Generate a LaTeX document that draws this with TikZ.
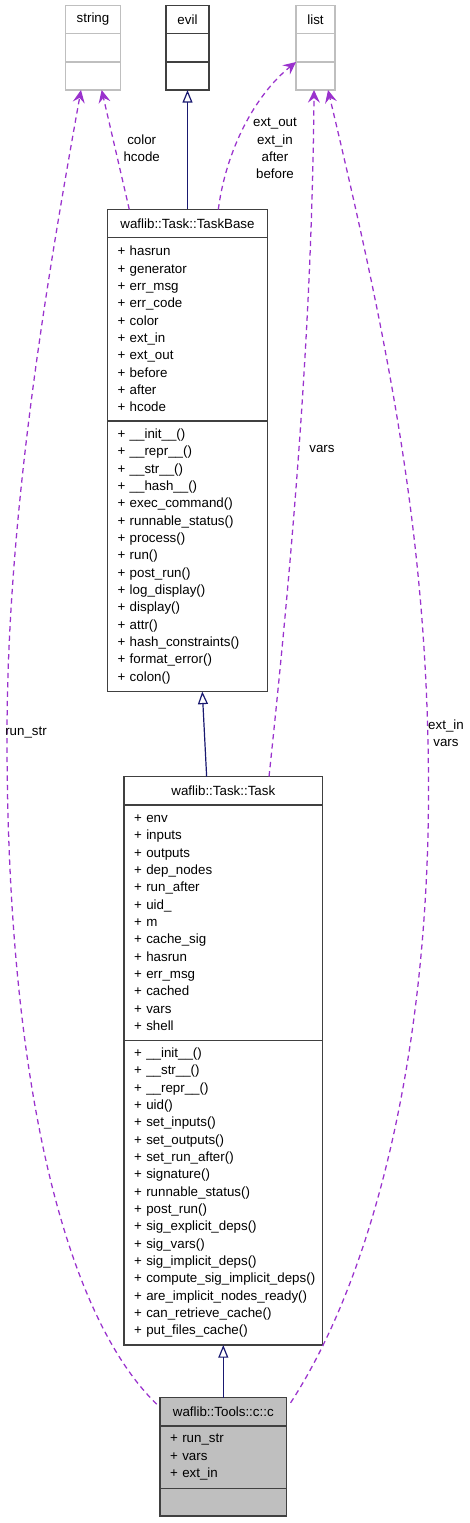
\documentclass[tikz,border=0pt]{standalone}
\usepackage{fontspec}
\setmainfont{Liberation Sans}
\usetikzlibrary{positioning,arrows.meta}
\definecolor{edgeblue}{HTML}{191970}
\definecolor{edgepurple}{HTML}{9A32CD}
\definecolor{boxgray}{HTML}{BFBFBF}
\definecolor{boxdark}{HTML}{404040}
\hyphenpenalty=10000
\exhyphenpenalty=10000
\begin{document}
\begin{tikzpicture}[x=0.75pt, y=-0.75pt,
  every node/.style={font=\fontsize{10}{13}\selectfont},
  cls/.style={rectangle, draw=boxdark, line width=0.9pt, fill=white, inner xsep=7.5pt, inner ysep=0pt, outer sep=0pt},
  ext/.style={cls, draw=boxgray},
  members/.style={align=left, text width=#1},
  lbl/.style={align=center, inner sep=0pt},
  inh/.style={draw=edgeblue, line width=0.9pt, -{Triangle[open, length=9.5pt, width=7.5pt]}},
  dep/.style={draw=edgepurple, line width=0.95pt, dash pattern=on 4pt off 3pt, -{Stealth[length=9.5pt, width=9pt, inset=3.5pt]}}]
  \useasboundingbox (0,0) rectangle (469,1523);
  % Nodes
  \node (STR) [ext, minimum width=41.25pt, minimum height=21pt, anchor=north] at (93,5.5) {string};
  \node (STR-ATTR) [ext, minimum width=41.25pt, minimum height=21.4pt, below=0pt of STR] {};
  \node (STR-METH) [ext, minimum width=41.25pt, minimum height=21pt, below=0pt of STR-ATTR] {};
  \node (EVIL) [cls, minimum width=32.25pt, minimum height=21pt, anchor=north] at (187.5,5.5) {evil};
  \node (EVIL-ATTR) [cls, minimum width=32.25pt, minimum height=21.4pt, below=0pt of EVIL] {};
  \node (EVIL-METH) [cls, minimum width=32.25pt, minimum height=21pt, below=0pt of EVIL-ATTR] {};
  \node (LIST) [ext, minimum width=29.25pt, minimum height=21pt, anchor=north] at (315.5,5.5) {list};
  \node (LIST-ATTR) [ext, minimum width=29.25pt, minimum height=21.4pt, below=0pt of LIST] {};
  \node (LIST-METH) [ext, minimum width=29.25pt, minimum height=21pt, below=0pt of LIST-ATTR] {};
  \node (TB) [cls, minimum width=120pt, minimum height=21pt, anchor=north] at (187.5,209.5) {waflib::Task::TaskBase};
  \node (TB-ATTR) [cls, members=105pt, minimum height=137.6pt, below=0pt of TB]
    {+~hasrun\\+~generator\\+~err\_msg\\+~err\_code\\+~color\\+~ext\_in\\+~ext\_out\\+~before\\+~after\\+~hcode};
  \node (TB-METH) [cls, members=105pt, minimum height=202.9pt, below=0pt of TB-ATTR]
    {+~\_\_init\_\_()\\+~\_\_repr\_\_()\\+~\_\_str\_\_()\\+~\_\_hash\_\_()\\+~exec\_command()\\+~runnable\_status()\\+~process()\\+~run()\\+~post\_run()\\+~log\_display()\\+~display()\\+~attr()\\+~hash\_constraints()\\+~format\_error()\\+~colon()};
  \node (TASK) [cls, minimum width=148.9pt, minimum height=21.4pt, anchor=north] at (223.3,776.5) {waflib::Task::Task};
  \node (TASK-ATTR) [cls, members=133.9pt, minimum height=176.6pt, below=0pt of TASK]
    {+~env\\+~inputs\\+~outputs\\+~dep\_nodes\\+~run\_after\\+~uid\_\\+~m\\+~cache\_sig\\+~hasrun\\+~err\_msg\\+~cached\\+~vars\\+~shell};
  \node (TASK-METH) [cls, members=133.9pt, minimum height=228.4pt, below=0pt of TASK-ATTR]
    {+~\_\_init\_\_()\\+~\_\_str\_\_()\\+~\_\_repr\_\_()\\+~uid()\\+~set\_inputs()\\+~set\_outputs()\\+~set\_run\_after()\\+~signature()\\+~runnable\_status()\\+~post\_run()\\+~sig\_explicit\_deps()\\+~sig\_vars()\\+~sig\_implicit\_deps()\\+~\mbox{compute\_sig\_implicit\_deps()}\\+~are\_implicit\_nodes\_ready()\\+~can\_retrieve\_cache()\\+~put\_files\_cache()};
  \node (CC) [cls, fill=boxgray, minimum width=94.9pt, minimum height=21.4pt, anchor=north] at (223.3,1397.5) {waflib::Tools::c::c};
  \node (CC-ATTR) [cls, fill=boxgray, members=79.9pt, minimum height=46.9pt, below=0pt of CC]
    {+~run\_str\\+~vars\\+~ext\_in};
  \node (CC-METH) [cls, fill=boxgray, minimum width=94.9pt, minimum height=20.6pt, below=0pt of CC-ATTR] {};
  % Inheritance arrows
  \draw[inh] (TB.north) -- (EVIL-METH.south);
  \draw[inh] ([xshift=-12.5pt]TASK.north) -- ([xshift=11.1pt]TB-METH.south);
  \draw[inh] (CC.north) -- (TASK-METH.south);
  % Usage arrows
  \draw[dep] ([xshift=-43.65pt]TB.north) -- ([xshift=6.5pt]STR-METH.south);
  \draw[dep] ([xshift=23.1pt]TB.north) .. controls (226,150) and (255,95) .. (LIST-ATTR.south west);
  \draw[dep] ([xshift=34.3pt]TASK.north) .. controls (292,560) and (312,330) .. ([xshift=-1.1pt]LIST-METH.south);
  \draw[dep] ([xshift=-2.5pt, yshift=-5pt]CC.north west) .. controls (70,1320) and (7,1100) .. (7,737)
    .. controls (7,520) and (45,290) .. ([xshift=-9pt]STR-METH.south);
  \draw[dep] ([xshift=3pt, yshift=-4pt]CC.north east) .. controls (375,1273) and (428.5,1050) .. (428.5,790)
    .. controls (428.5,540) and (388,342) .. ([xshift=9.4pt]LIST-METH.south);
  % Labels
  \node (L-COLOR) [lbl] at (141.7,148) {color\\hcode};
  \node (L-EXTOUT) [lbl] at (275,148.5) {ext\_out\\ext\_in\\after\\before};
  \node (L-VARS) [lbl] at (322,449) {vars};
  \node (L-RUNSTR) [lbl] at (26,733) {run\_str};
  \node (L-EXTIN) [lbl] at (446,733.5) {ext\_in\\vars};
\end{tikzpicture}
\end{document}
